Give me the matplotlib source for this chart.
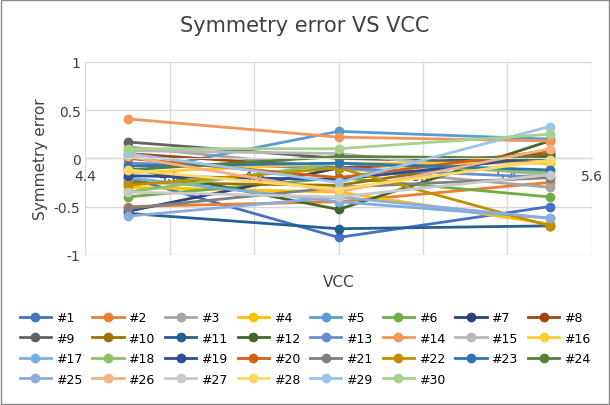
import matplotlib.pyplot as plt

X_VALUES = [4.5, 5.0, 5.5]
SERIES_NAMES = ['#%d' % i for i in range(1, 31)]
SERIES_VALUES = [
    [-0.20, -0.82, -0.50],  # 1
    [-0.50, -0.45, -0.25],  # 2
    [0.12, -0.10, -0.30],   # 3
    [-0.30, -0.35, -0.68],  # 4
    [-0.15, 0.28, 0.20],    # 5
    [-0.40, -0.20, -0.40],  # 6
    [-0.55, -0.10, 0.05],   # 7
    [0.05, -0.10, 0.00],    # 8
    [0.17, 0.00, -0.05],    # 9
    [-0.25, -0.28, 0.05],   # 10
    [-0.57, -0.73, -0.70],  # 11
    [-0.10, -0.53, 0.18],   # 12
    [-0.05, -0.10, -0.20],  # 13
    [0.41, 0.22, 0.18],     # 14
    [0.08, 0.05, -0.18],    # 15
    [-0.15, -0.05, -0.05],  # 16
    [-0.20, -0.45, -0.62],  # 17
    [-0.35, -0.05, -0.15],  # 18
    [-0.18, -0.22, 0.02],   # 19
    [0.00, -0.20, 0.08],    # 20
    [-0.52, -0.30, -0.20],  # 21
    [-0.28, -0.10, -0.70],  # 22
    [-0.08, -0.05, -0.12],  # 23
    [-0.12, 0.02, 0.00],    # 24
    [-0.60, -0.40, -0.62],  # 25
    [0.02, -0.35, 0.10],    # 26
    [-0.35, -0.40, -0.17],  # 27
    [-0.12, -0.32, -0.02],  # 28
    [0.05, -0.25, 0.33],    # 29
    [0.10, 0.10, 0.25],     # 30
]
COLORS = ['#4472C4', '#ED7D31', '#A5A5A5', '#FFC000', '#5B9BD5', '#70AD47',
          '#264478', '#9E480E', '#636363', '#997300', '#255E91', '#43682B',
          '#698ED0', '#F1975A', '#B7B7B7', '#FFCD33', '#7CAFDD', '#8CC168',
          '#314C96', '#D26012', '#7F7F7F', '#BF9000', '#2E75B6', '#548235',
          '#8FAADC', '#F4B183', '#C9C9C9', '#FFD966', '#9DC3E6', '#A9D18E']
NCOL = 8

fig = plt.figure(figsize=(6.1, 4.06), dpi=100)
fig.patches.append(plt.Rectangle((0.002, 0.002), 0.996, 0.996, transform=fig.transFigure,
                                 fill=False, edgecolor='#888888', linewidth=1))
ax = fig.add_axes([0.14, 0.37, 0.83, 0.475])

handles = []
for name, vals, col in zip(SERIES_NAMES, SERIES_VALUES, COLORS):
    h, = ax.plot(X_VALUES, vals, '-o', color=col, label=name, linewidth=2, markersize=6)
    handles.append(h)

ax.set_xlim(4.4, 5.6)
ax.set_ylim(-1, 1)
ax.set_xticks([4.4, 4.6, 4.8, 5, 5.2, 5.4, 5.6])
ax.set_xticklabels(['4.4', '4.6', '4.8', '5', '5.2', '5.4', '5.6'])
ax.set_yticks([-1, -0.5, 0, 0.5, 1])
ax.set_yticklabels(['-1', '-0.5', '0', '0.5', '1'])
ax.grid(True, color='#D9D9D9', linewidth=1)
ax.set_axisbelow(True)
ax.spines['bottom'].set_position(('data', 0))
ax.spines['bottom'].set_color('#D9D9D9')
for s in ['top', 'right', 'left']:
    ax.spines[s].set_visible(False)
ax.tick_params(length=0, labelsize=10, colors='#404040')
ax.tick_params(axis='x', pad=8)
ax.set_ylabel('Symmetry error', fontsize=11, color='#404040')
ax.set_xlabel('VCC', fontsize=11, color='#404040')
ax.xaxis.set_label_coords(0.5, -0.1)

fig.suptitle('Symmetry error VS VCC', fontsize=15, color='#404040', y=0.96)

# legend is filled column-wise, so reorder to read row-wise like the original
nrows = (len(handles) + NCOL - 1) // NCOL
order = []
for c in range(NCOL):
    for r in range(nrows):
        i = r * NCOL + c
        if i < len(handles):
            order.append(i)
fig.legend([handles[i] for i in order], [SERIES_NAMES[i] for i in order],
           loc='lower center', bbox_to_anchor=(0.5, 0.02), ncol=NCOL, frameon=False,
           fontsize=9, handlelength=2.5, columnspacing=0.8, handletextpad=0.4,
           labelspacing=0.6)

fig.savefig('out.png', dpi=100)
